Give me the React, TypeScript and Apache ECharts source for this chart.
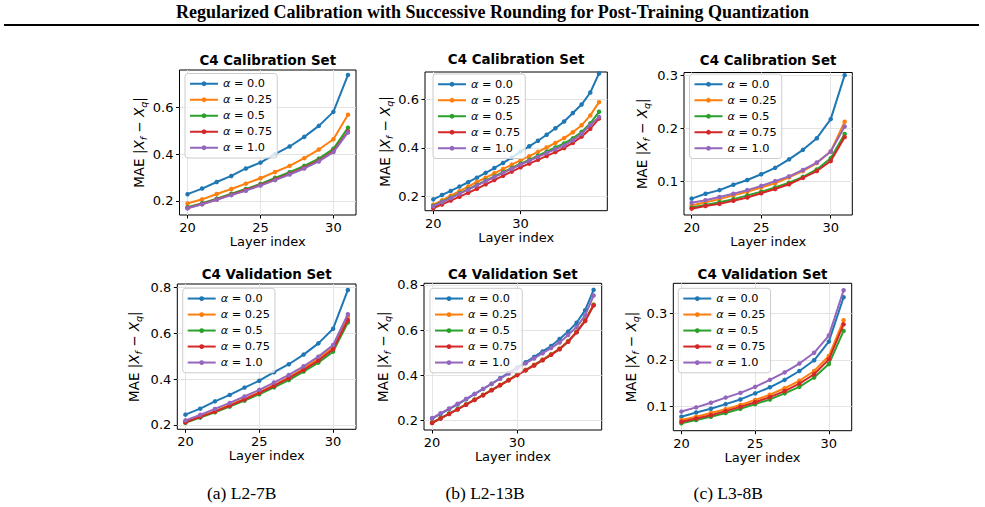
import React, { useEffect, useRef } from 'react';
import * as echarts from 'echarts';

const FONT = "'DejaVu Sans', 'Noto Sans', sans-serif";
const SERIF = "'Liberation Serif', 'DejaVu Serif', serif";
const COLORS = ['#1f77b4', '#ff7f0e', '#2ca02c', '#d62728', '#9467bd'];
const ALPHA_NAMES = ['α = 0.0', 'α = 0.25', 'α = 0.5', 'α = 0.75', 'α = 1.0'];

const MAIN_TITLE = 'Regularized Calibration with Successive Rounding for Post-Training Quantization';
const CAPTIONS = ['(a) L2-7B', '(b) L2-13B', '(c) L3-8B'];
const PANEL_TITLES = ['C4 Calibration Set', 'C4 Validation Set'];

const LAYERS_32 = [20, 21, 22, 23, 24, 25, 26, 27, 28, 29, 30, 31];
const LAYERS_40 = [20, 21, 22, 23, 24, 25, 26, 27, 28, 29, 30, 31, 32, 33, 34, 35, 36, 37, 38, 39];

const X_TICKS_32 = [20, 25, 30];
const X_TICKS_40 = [20, 30];
const Y_TICKS_A = [0.2, 0.4, 0.6];
const Y_TICKS_B = [0.1, 0.2, 0.3];
const Y_TICKS_C = [0.2, 0.4, 0.6, 0.8];

// (a) L2-7B, calibration
const L27_CAL_A00 = [0.229, 0.253, 0.281, 0.307, 0.339, 0.364, 0.4, 0.433, 0.474, 0.521, 0.581, 0.739];
const L27_CAL_A025 = [0.189, 0.207, 0.23, 0.251, 0.274, 0.297, 0.324, 0.35, 0.383, 0.42, 0.464, 0.569];
const L27_CAL_A05 = [0.173, 0.19, 0.21, 0.231, 0.251, 0.273, 0.299, 0.323, 0.35, 0.381, 0.423, 0.513];
const L27_CAL_A075 = [0.17, 0.187, 0.206, 0.227, 0.247, 0.268, 0.292, 0.316, 0.342, 0.372, 0.413, 0.497];
const L27_CAL_A10 = [0.169, 0.186, 0.205, 0.225, 0.244, 0.266, 0.289, 0.313, 0.339, 0.369, 0.409, 0.493];

// (a) L2-7B, validation
const L27_VAL_A00 = [0.245, 0.271, 0.303, 0.331, 0.363, 0.393, 0.43, 0.465, 0.507, 0.556, 0.62, 0.789];
const L27_VAL_A025 = [0.213, 0.236, 0.261, 0.287, 0.313, 0.343, 0.375, 0.408, 0.447, 0.489, 0.539, 0.673];
const L27_VAL_A05 = [0.209, 0.232, 0.255, 0.28, 0.306, 0.334, 0.364, 0.396, 0.433, 0.472, 0.52, 0.647];
const L27_VAL_A075 = [0.212, 0.235, 0.258, 0.284, 0.311, 0.34, 0.37, 0.404, 0.44, 0.481, 0.53, 0.658];
const L27_VAL_A10 = [0.22, 0.244, 0.27, 0.296, 0.324, 0.353, 0.385, 0.418, 0.456, 0.498, 0.549, 0.683];

// (b) L2-13B, calibration
const L213_CAL_A00 = [0.187, 0.205, 0.222, 0.24, 0.258, 0.277, 0.297, 0.317, 0.338, 0.36, 0.385, 0.407, 0.43, 0.455, 0.482, 0.51, 0.545, 0.58, 0.63, 0.709];
const L213_CAL_A025 = [0.165, 0.183, 0.202, 0.221, 0.24, 0.259, 0.277, 0.295, 0.313, 0.331, 0.349, 0.366, 0.384, 0.402, 0.421, 0.441, 0.465, 0.494, 0.535, 0.59];
const L213_CAL_A05 = [0.16, 0.177, 0.194, 0.212, 0.229, 0.247, 0.265, 0.282, 0.3, 0.317, 0.335, 0.351, 0.368, 0.385, 0.402, 0.419, 0.44, 0.466, 0.502, 0.55];
const L213_CAL_A075 = [0.15, 0.166, 0.182, 0.198, 0.214, 0.231, 0.249, 0.267, 0.285, 0.302, 0.32, 0.335, 0.351, 0.367, 0.383, 0.4, 0.421, 0.447, 0.48, 0.522];
const L213_CAL_A10 = [0.158, 0.175, 0.192, 0.21, 0.227, 0.245, 0.262, 0.279, 0.297, 0.314, 0.331, 0.347, 0.363, 0.379, 0.395, 0.41, 0.432, 0.458, 0.495, 0.529];

// (b) L2-13B, validation
const L213_VAL_A00 = [0.207, 0.228, 0.249, 0.27, 0.293, 0.316, 0.339, 0.362, 0.386, 0.41, 0.434, 0.457, 0.481, 0.505, 0.529, 0.56, 0.593, 0.632, 0.688, 0.778];
const L213_VAL_A025 = [0.19, 0.21, 0.23, 0.25, 0.271, 0.292, 0.313, 0.335, 0.357, 0.379, 0.402, 0.424, 0.446, 0.469, 0.493, 0.518, 0.551, 0.593, 0.644, 0.713];
const L213_VAL_A05 = [0.189, 0.209, 0.229, 0.249, 0.27, 0.291, 0.312, 0.334, 0.356, 0.378, 0.401, 0.422, 0.444, 0.467, 0.491, 0.516, 0.549, 0.591, 0.642, 0.711];
const L213_VAL_A075 = [0.188, 0.208, 0.228, 0.248, 0.269, 0.29, 0.311, 0.333, 0.355, 0.377, 0.4, 0.421, 0.443, 0.466, 0.49, 0.515, 0.548, 0.59, 0.64, 0.709];
const L213_VAL_A10 = [0.21, 0.231, 0.252, 0.273, 0.295, 0.317, 0.339, 0.361, 0.384, 0.407, 0.43, 0.452, 0.474, 0.497, 0.52, 0.545, 0.578, 0.613, 0.665, 0.753];

// (c) L3-8B, calibration
const L38_CAL_A00 = [0.068, 0.077, 0.084, 0.094, 0.103, 0.114, 0.126, 0.142, 0.16, 0.182, 0.218, 0.301];
const L38_CAL_A025 = [0.055, 0.061, 0.067, 0.074, 0.081, 0.089, 0.097, 0.108, 0.12, 0.135, 0.157, 0.213];
const L38_CAL_A05 = [0.051, 0.056, 0.061, 0.067, 0.074, 0.081, 0.089, 0.098, 0.109, 0.123, 0.144, 0.19];
const L38_CAL_A075 = [0.049, 0.054, 0.058, 0.064, 0.07, 0.078, 0.086, 0.095, 0.107, 0.12, 0.139, 0.184];
const L38_CAL_A10 = [0.06, 0.065, 0.071, 0.077, 0.084, 0.092, 0.101, 0.11, 0.122, 0.136, 0.157, 0.204];

// (c) L3-8B, validation
const L38_VAL_A00 = [0.078, 0.087, 0.095, 0.105, 0.115, 0.128, 0.141, 0.157, 0.176, 0.199, 0.239, 0.334];
const L38_VAL_A025 = [0.071, 0.078, 0.086, 0.094, 0.103, 0.114, 0.125, 0.139, 0.155, 0.176, 0.208, 0.285];
const L38_VAL_A05 = [0.064, 0.071, 0.078, 0.086, 0.095, 0.105, 0.115, 0.128, 0.142, 0.162, 0.191, 0.262];
const L38_VAL_A075 = [0.067, 0.074, 0.081, 0.09, 0.099, 0.109, 0.12, 0.133, 0.149, 0.169, 0.201, 0.276];
const L38_VAL_A10 = [0.089, 0.098, 0.108, 0.119, 0.129, 0.142, 0.157, 0.173, 0.192, 0.215, 0.252, 0.349];

type Panel = {
  title: string;
  layers: number[];
  series: number[][];
  xTicks: number[];
  yTicks: number[];
  xMin: number; xMax: number; yMin: number; yMax: number;
  grid: { left: number; top: number; width: number; height: number };
  titleY: number;
  legend: { left: number; top: number };
  nameGap: number;
};

const PANELS: Panel[] = [
  {
    title: PANEL_TITLES[0], layers: LAYERS_32,
    series: [L27_CAL_A00, L27_CAL_A025, L27_CAL_A05, L27_CAL_A075, L27_CAL_A10],
    xTicks: X_TICKS_32, yTicks: Y_TICKS_A, xMin: 19.45, xMax: 31.55, yMin: 0.14, yMax: 0.76,
    grid: { left: 179.5, top: 70, width: 176.5, height: 145 }, titleY: 60,
    legend: { left: 185, top: 73.5 }, nameGap: 31,
  },
  {
    title: PANEL_TITLES[0], layers: LAYERS_40,
    series: [L213_CAL_A00, L213_CAL_A025, L213_CAL_A05, L213_CAL_A075, L213_CAL_A10],
    xTicks: X_TICKS_40, yTicks: Y_TICKS_A, xMin: 19.05, xMax: 39.95, yMin: 0.14, yMax: 0.715,
    grid: { left: 425, top: 72, width: 182.3, height: 138.7 }, titleY: 59.5,
    legend: { left: 433, top: 74 }, nameGap: 28,
  },
  {
    title: PANEL_TITLES[0], layers: LAYERS_32,
    series: [L38_CAL_A00, L38_CAL_A025, L38_CAL_A05, L38_CAL_A075, L38_CAL_A10],
    xTicks: X_TICKS_32, yTicks: Y_TICKS_B, xMin: 19.45, xMax: 31.55, yMin: 0.037, yMax: 0.306,
    grid: { left: 684, top: 72.5, width: 168.3, height: 142.5 }, titleY: 60,
    legend: { left: 689.5, top: 74 }, nameGap: 33,
  },
  {
    title: PANEL_TITLES[1], layers: LAYERS_32,
    series: [L27_VAL_A00, L27_VAL_A025, L27_VAL_A05, L27_VAL_A075, L27_VAL_A10],
    xTicks: X_TICKS_32, yTicks: Y_TICKS_C, xMin: 19.45, xMax: 31.55, yMin: 0.181, yMax: 0.815,
    grid: { left: 177.3, top: 284, width: 178.7, height: 145.3 }, titleY: 274,
    legend: { left: 182.7, top: 288.3 }, nameGap: 33.5,
  },
  {
    title: PANEL_TITLES[1], layers: LAYERS_40,
    series: [L213_VAL_A00, L213_VAL_A025, L213_VAL_A05, L213_VAL_A075, L213_VAL_A10],
    xTicks: X_TICKS_40, yTicks: Y_TICKS_C, xMin: 19.05, xMax: 39.95, yMin: 0.157, yMax: 0.807,
    grid: { left: 424, top: 283.3, width: 177.7, height: 146.7 }, titleY: 274,
    legend: { left: 430, top: 288.3 }, nameGap: 32,
  },
  {
    title: PANEL_TITLES[1], layers: LAYERS_32,
    series: [L38_VAL_A00, L38_VAL_A025, L38_VAL_A05, L38_VAL_A075, L38_VAL_A10],
    xTicks: X_TICKS_32, yTicks: Y_TICKS_B, xMin: 19.45, xMax: 31.55, yMin: 0.048, yMax: 0.364,
    grid: { left: 673.3, top: 283.3, width: 178.4, height: 147.4 }, titleY: 274,
    legend: { left: 678.3, top: 288.3 }, nameGap: 33,
  },
];

const CAPTION_X = [241.7, 485, 728.3];

function buildOption() {
  const grids: any[] = [];
  const xAxes: any[] = [];
  const yAxes: any[] = [];
  const series: any[] = [];
  const legends: any[] = [];
  const graphics: any[] = [];

  PANELS.forEach((p, pi) => {
    grids.push({
      left: p.grid.left, top: p.grid.top, width: p.grid.width, height: p.grid.height,
      show: true, borderColor: '#000', borderWidth: 1, backgroundColor: 'transparent', containLabel: false,
    });
    xAxes.push({
      type: 'value', gridIndex: pi, min: p.xMin, max: p.xMax,
      name: 'Layer index', nameLocation: 'middle', nameGap: 19,
      nameTextStyle: { fontFamily: FONT, fontSize: 13, color: '#000' },
      axisLine: { show: false },
      axisTick: { show: true, customValues: p.xTicks, length: 3.5, lineStyle: { color: '#000', width: 1 } },
      axisLabel: { customValues: p.xTicks, margin: 6, fontFamily: FONT, fontSize: 13, color: '#000', formatter: (v: number) => String(v) },
      splitLine: { show: true, lineStyle: { color: '#e3e3e3', width: 1 } },
    });
    yAxes.push({
      type: 'value', gridIndex: pi, min: p.yMin, max: p.yMax,
      name: 'MAE |{i|X}{s|f} − {i|X}{s|q}|', nameLocation: 'middle', nameGap: p.nameGap,
      nameTextStyle: {
        fontFamily: FONT, fontSize: 13.5, color: '#000', lineHeight: 19,
        rich: {
          i: { fontFamily: FONT, fontSize: 13.5, fontStyle: 'italic', color: '#000', lineHeight: 19 },
          s: { fontFamily: FONT, fontSize: 9.5, fontStyle: 'italic', color: '#000', verticalAlign: 'bottom', lineHeight: 19 },
        },
      },
      axisLine: { show: false },
      axisTick: { show: true, customValues: p.yTicks, length: 3.5, lineStyle: { color: '#000', width: 1 } },
      axisLabel: { customValues: p.yTicks, margin: 6, fontFamily: FONT, fontSize: 13, color: '#000', formatter: (v: number) => v.toFixed(1) },
      splitLine: { show: true, lineStyle: { color: '#e3e3e3', width: 1 } },
    });
    p.series.forEach((vals, si) => {
      series.push({
        type: 'line', name: ALPHA_NAMES[si], xAxisIndex: pi, yAxisIndex: pi,
        data: p.layers.map((l, k) => [l, vals[k]]),
        symbol: 'circle', symbolSize: 4.5, showSymbol: true,
        lineStyle: { color: COLORS[si], width: 2 },
        itemStyle: { color: COLORS[si] },
        emphasis: { disabled: true }, silent: true, z: 2 + si,
      });
    });
    legends.push({
      orient: 'vertical', left: p.legend.left, top: p.legend.top,
      data: ALPHA_NAMES, selectedMode: false,
      itemWidth: 28, itemHeight: 6, itemGap: 2.5,
      padding: [3.5, 5, 3.5, 4],
      backgroundColor: 'rgba(255,255,255,0.8)', borderColor: '#cccccc', borderWidth: 1, borderRadius: 3,
      formatter: (n: string) => '{i|α}' + n.slice(1),
      textStyle: {
        fontFamily: FONT, fontSize: 11.3, color: '#000', lineHeight: 13.5,
        rich: { i: { fontFamily: FONT, fontSize: 11.3, fontStyle: 'italic', color: '#000', lineHeight: 13.5 } },
      },
      z: 20,
    });
    graphics.push({
      type: 'text', x: p.grid.left + p.grid.width / 2, y: p.titleY,
      style: { text: p.title, fontFamily: FONT, fontSize: 13.4, fontWeight: 'bold', fill: '#000', textAlign: 'center', textVerticalAlign: 'middle' },
    });
  });

  graphics.push({
    type: 'text', x: 492.5, y: 12,
    style: { text: MAIN_TITLE, fontFamily: SERIF, fontSize: 18, fontWeight: 'bold', fill: '#000', textAlign: 'center', textVerticalAlign: 'middle' },
  });
  graphics.push({ type: 'rect', shape: { x: 4, y: 24, width: 975, height: 2 }, style: { fill: '#000' } });
  CAPTIONS.forEach((c, i) => {
    graphics.push({
      type: 'text', x: CAPTION_X[i], y: 493,
      style: { text: c, fontFamily: SERIF, fontSize: 17.5, fill: '#000', textAlign: 'center', textVerticalAlign: 'middle' },
    });
  });

  return {
    animation: false,
    backgroundColor: '#fff',
    grid: grids,
    xAxis: xAxes,
    yAxis: yAxes,
    legend: legends,
    series,
    graphic: graphics,
  };
}

export default function App() {
  const ref = useRef<HTMLDivElement>(null);
  useEffect(() => {
    if (!ref.current) return;
    const chart = echarts.init(ref.current, undefined, { renderer: 'svg' });
    chart.setOption(buildOption() as any);
    return () => chart.dispose();
  }, []);
  return (
    <div
      ref={ref}
      style={{ position: 'fixed', left: 0, top: 0, width: 985, height: 507, background: '#fff' }}
    />
  );
}
